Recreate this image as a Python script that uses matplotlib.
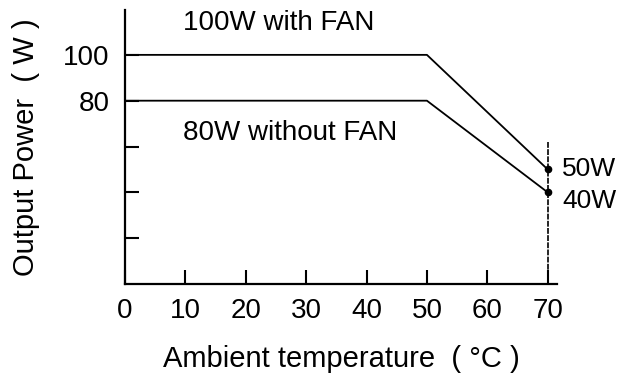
import matplotlib
matplotlib.use("Agg")
import matplotlib.pyplot as plt

plt.rcParams['font.family'] = ['Liberation Sans', 'DejaVu Sans']

# derating curves
temp = [0, 50, 70]
with_fan = [100, 100, 50]
without_fan = [80, 80, 40]

x_ticks = [0, 10, 20, 30, 40, 50, 60, 70]
y_ticks = [20, 40, 60, 80, 100]
y_tick_labels = ['', '', '', '80', '100']

fig = plt.figure(figsize=(6.2, 3.83), dpi=100)
ax = fig.add_axes([0.2016, 0.2585, 0.6964, 0.7155])

ax.plot(temp, with_fan, color='black', lw=1.3, solid_capstyle='butt')
ax.plot(temp, without_fan, color='black', lw=1.3, solid_capstyle='butt')
ax.plot([temp[-1], temp[-1]], [0, 62], color='black', lw=1.2,
        linestyle=(0, (3.5, 0.8)))
ax.plot([temp[-1], temp[-1]], [with_fan[-1], without_fan[-1]], 'o',
        color='black', markersize=4.5)

ax.text(9.6, 114, '100W with FAN', fontsize=20, va='center', ha='left')
ax.text(9.6, 66, '80W without FAN', fontsize=20, va='center', ha='left')
ax.text(72.4, with_fan[-1], '50W', fontsize=19, va='center', ha='left')
ax.text(72.4, 36.3, '40W', fontsize=19, va='center', ha='left')

ax.set_xlim(0, 71.5)
ax.set_ylim(0, 119.6)
ax.set_xticks(x_ticks)
ax.set_xticklabels([str(t) for t in x_ticks])
ax.set_yticks(y_ticks)
ax.set_yticklabels(y_tick_labels)
ax.tick_params(direction='in', length=10, width=1.5, labelsize=20, color='black')
ax.tick_params(axis='x', pad=10)
ax.tick_params(axis='y', pad=11)

for s in ['top', 'right']:
    ax.spines[s].set_visible(False)
for s in ['left', 'bottom']:
    ax.spines[s].set_linewidth(1.6)

ax.set_xlabel('Ambient temperature  ( °C )', fontsize=21, labelpad=15)
ax.set_ylabel('Output Power  ( W )', fontsize=21, labelpad=17)

fig.savefig('out.png', dpi=100)
